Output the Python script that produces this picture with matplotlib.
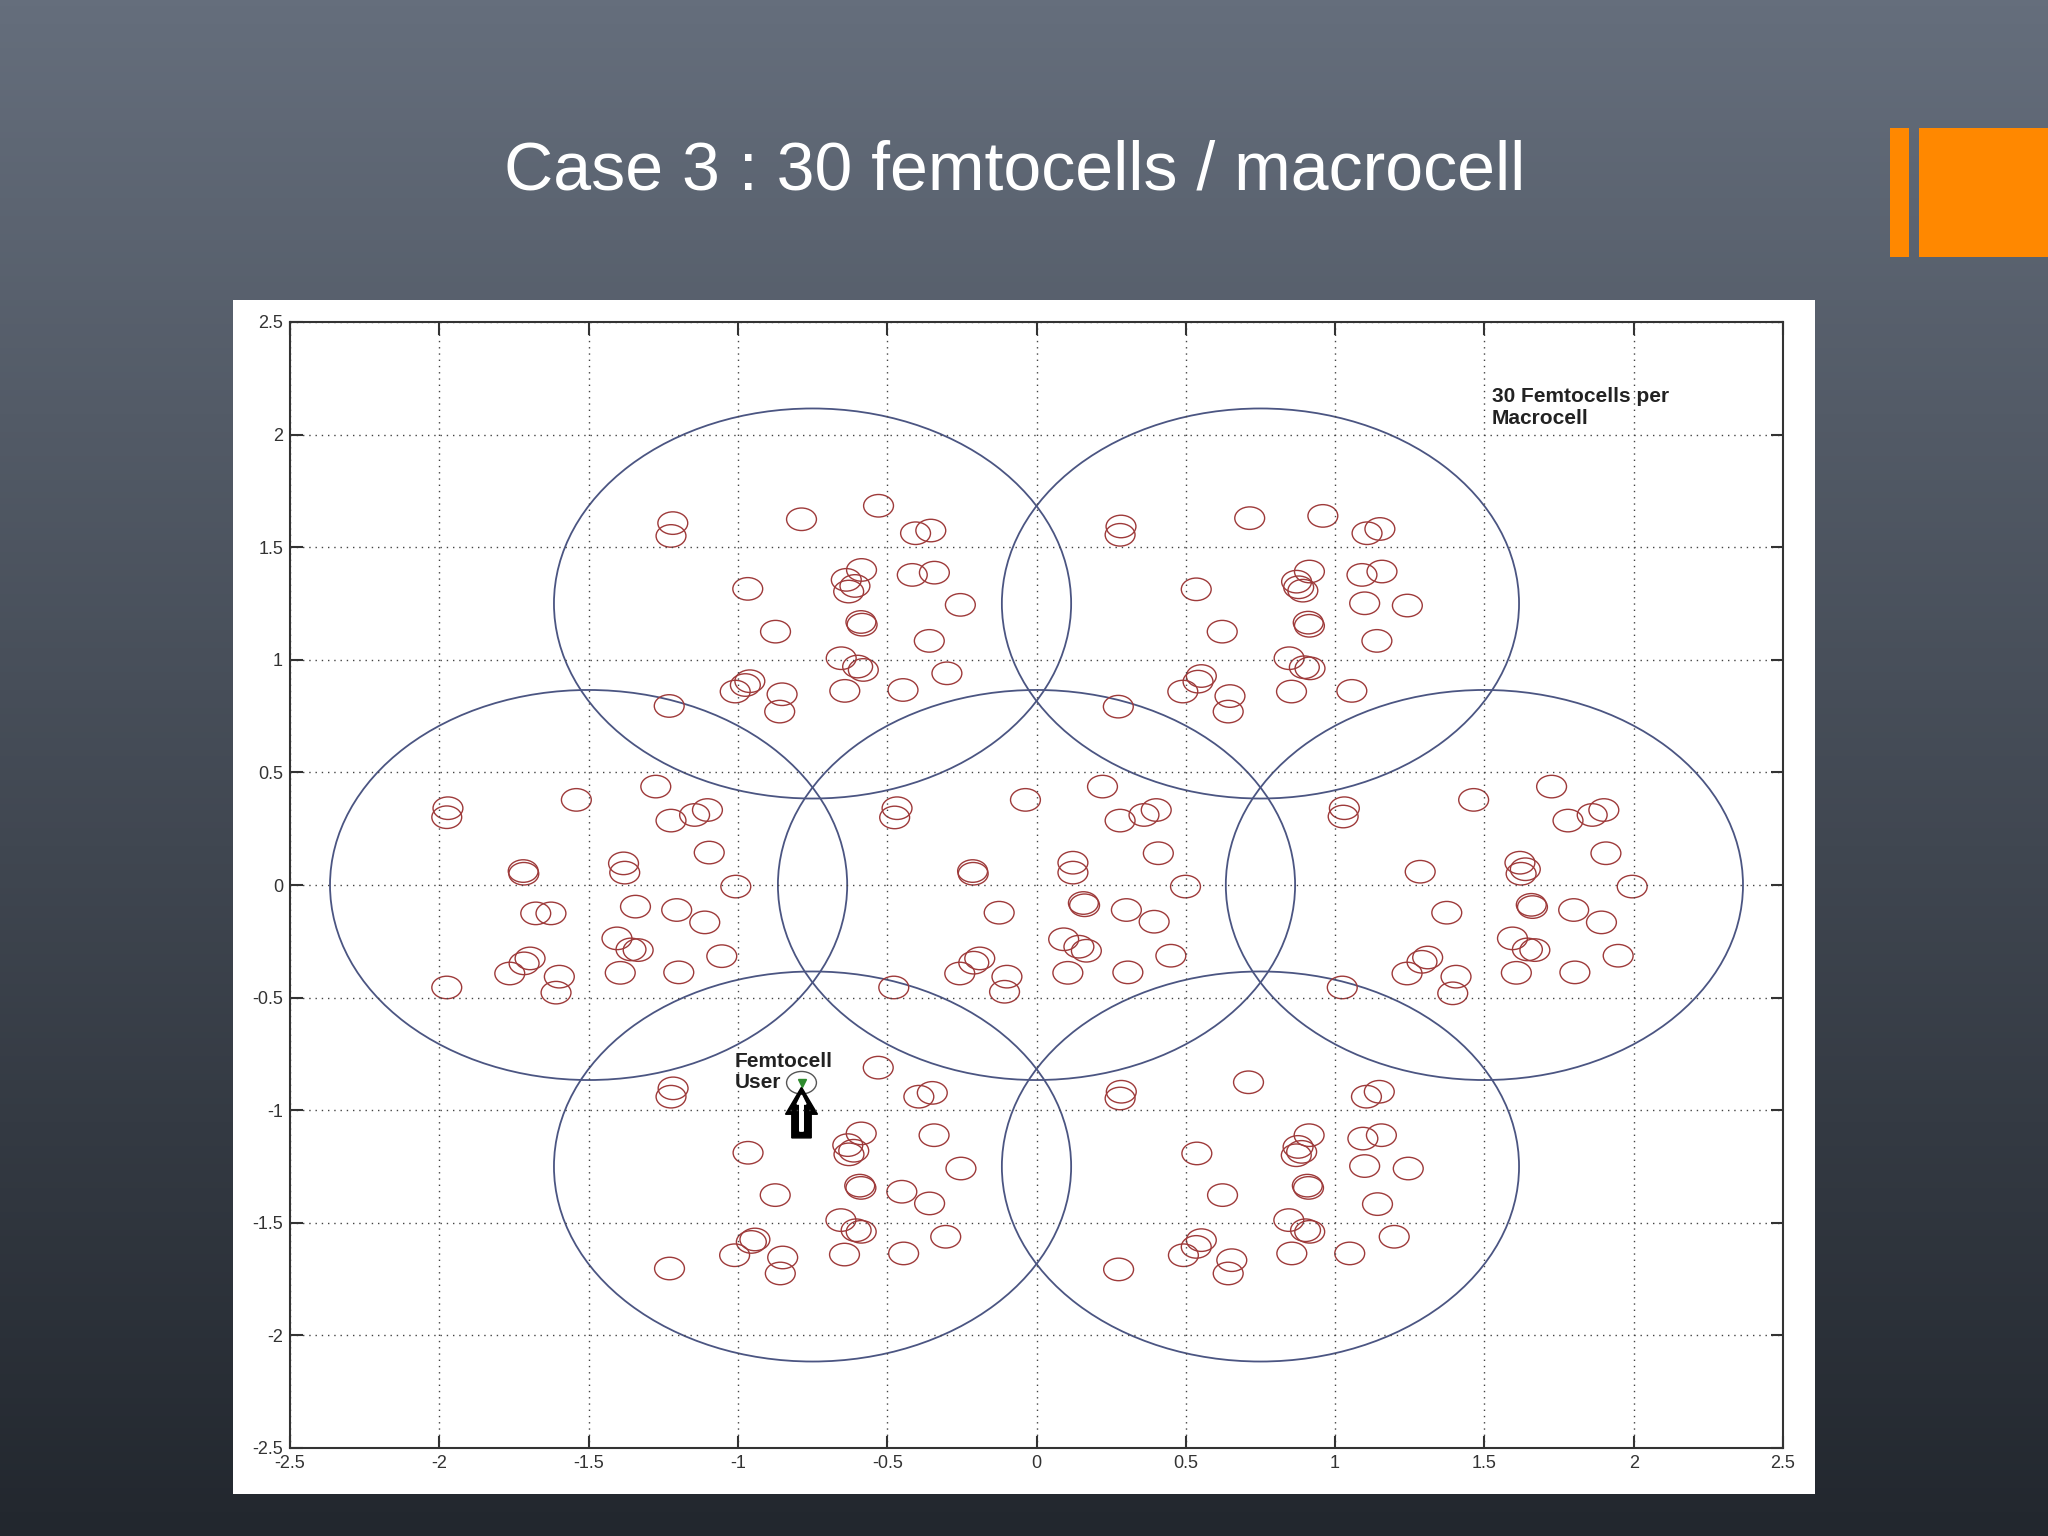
import numpy as np
import matplotlib.pyplot as plt
import matplotlib.patches as patches

plt.rcParams['font.family'] = ['Liberation Sans', 'DejaVu Sans']

# macrocell centres (hexagonal layout) and radius
macro_x = [0, 1.5, -1.5, -0.75, 0.75, -0.75, 0.75]
macro_y = [0, 0, 0, 1.25, 1.25, -1.25, -1.25]
macro_r = 0.866
femto_r = 0.05

# femtocell positions, one list per macrocell
fc_center = [(-0.037, 0.378), (-0.467, 0.341), (-0.475, 0.300), (0.221, 0.437), (0.280, 0.286),
             (0.360, 0.311), (0.401, 0.333), (0.408, 0.141), (0.122, 0.099), (0.122, 0.055),
             (-0.214, 0.062), (-0.212, 0.050), (0.499, -0.007), (0.157, -0.080), (0.161, -0.090),
             (-0.125, -0.123), (0.301, -0.111), (0.394, -0.163), (0.091, -0.241), (0.142, -0.274),
             (0.167, -0.292), (0.450, -0.314), (0.105, -0.390), (0.306, -0.388), (-0.257, -0.393),
             (-0.210, -0.345), (-0.190, -0.326), (-0.099, -0.407), (-0.107, -0.474), (-0.478, -0.455)]
fc_right = [(1.464, 0.378), (1.031, 0.341), (1.027, 0.304), (1.725, 0.437), (1.780, 0.286),
            (1.861, 0.311), (1.900, 0.333), (1.907, 0.141), (1.619, 0.099), (1.637, 0.070),
            (1.623, 0.050), (1.285, 0.059), (1.995, -0.007), (1.657, -0.088), (1.661, -0.098),
            (1.374, -0.123), (1.799, -0.111), (1.892, -0.166), (1.594, -0.237), (1.644, -0.286),
            (1.669, -0.289), (1.948, -0.314), (1.607, -0.390), (1.803, -0.388), (1.241, -0.393),
            (1.291, -0.341), (1.310, -0.322), (1.405, -0.407), (1.394, -0.481), (1.024, -0.455)]
fc_left = [(-1.541, 0.378), (-1.971, 0.341), (-1.975, 0.301), (-1.275, 0.437), (-1.224, 0.286),
           (-1.145, 0.311), (-1.102, 0.333), (-1.096, 0.144), (-1.383, 0.096), (-1.379, 0.055),
           (-1.719, 0.062), (-1.717, 0.050), (-1.007, -0.007), (-1.343, -0.096), (-1.677, -0.126),
           (-1.626, -0.126), (-1.205, -0.111), (-1.111, -0.166), (-1.405, -0.237), (-1.358, -0.286),
           (-1.334, -0.289), (-1.054, -0.316), (-1.394, -0.390), (-1.198, -0.388), (-1.764, -0.393),
           (-1.716, -0.348), (-1.696, -0.326), (-1.598, -0.407), (-1.609, -0.478), (-1.975, -0.455)]
fc_top_left = [(-1.218, 1.607), (-1.224, 1.550), (-0.967, 1.315), (-0.787, 1.624), (-0.529, 1.684),
               (-0.405, 1.562), (-0.354, 1.574), (-0.586, 1.399), (-0.416, 1.377), (-0.342, 1.387),
               (-0.637, 1.355), (-0.608, 1.328), (-0.629, 1.303), (-0.255, 1.244), (-0.588, 1.168),
               (-0.584, 1.156), (-0.874, 1.125), (-0.359, 1.084), (-0.654, 1.007), (-0.599, 0.970),
               (-0.580, 0.955), (-0.300, 0.940), (-0.975, 0.888), (-1.009, 0.859), (-0.960, 0.905),
               (-0.852, 0.847), (-0.860, 0.770), (-0.642, 0.862), (-0.447, 0.866), (-1.230, 0.795)]
fc_top_right = [(0.283, 1.592), (0.280, 1.555), (0.714, 1.629), (0.959, 1.639), (1.107, 1.562),
                (1.150, 1.581), (0.535, 1.313), (0.914, 1.392), (0.871, 1.347), (0.878, 1.322),
                (0.892, 1.307), (1.090, 1.377), (1.157, 1.392), (1.099, 1.251), (1.242, 1.241),
                (0.910, 1.165), (0.914, 1.151), (0.622, 1.125), (1.140, 1.084), (0.846, 1.007),
                (0.897, 0.967), (0.916, 0.962), (0.552, 0.928), (0.541, 0.903), (0.490, 0.859),
                (0.648, 0.839), (0.642, 0.770), (0.854, 0.859), (1.056, 0.862), (0.274, 0.792)]
fc_bottom_left = [(-1.217, -0.903), (-1.224, -0.940), (-0.530, -0.811), (-0.394, -0.940), (-0.349, -0.923),
                  (-0.343, -1.111), (-0.966, -1.189), (-0.587, -1.103), (-0.632, -1.155), (-0.612, -1.180),
                  (-0.628, -1.196), (-0.253, -1.259), (-0.592, -1.335), (-0.588, -1.345), (-0.875, -1.377),
                  (-0.451, -1.362), (-0.358, -1.414), (-0.655, -1.488), (-0.604, -1.533), (-0.587, -1.540),
                  (-0.304, -1.562), (-1.011, -1.644), (-0.955, -1.585), (-0.943, -1.574), (-0.850, -1.654),
                  (-0.858, -1.725), (-0.643, -1.641), (-0.445, -1.636), (-1.229, -1.703)]
fc_bottom_right = [(0.284, -0.918), (0.280, -0.948), (0.710, -0.876), (0.537, -1.192), (0.623, -1.377),
                   (0.552, -1.577), (0.535, -1.607), (0.492, -1.644), (0.654, -1.666), (0.642, -1.725),
                   (0.275, -1.707), (1.105, -0.940), (1.148, -0.918), (0.913, -1.111), (0.876, -1.163),
                   (0.888, -1.185), (0.870, -1.200), (1.093, -1.126), (1.155, -1.111), (1.099, -1.248),
                   (1.245, -1.259), (0.907, -1.335), (0.911, -1.345), (1.142, -1.417), (0.845, -1.488),
                   (0.901, -1.533), (0.915, -1.540), (1.198, -1.562), (0.855, -1.636), (1.049, -1.636)]
user_xy = (-0.787, -0.878)  # femtocell user (30th femtocell of the bottom-left cell)

ticks = [-2.5, -2, -1.5, -1, -0.5, 0, 0.5, 1, 1.5, 2, 2.5]
tick_labels = ['-2.5', '-2', '-1.5', '-1', '-0.5', '0', '0.5', '1', '1.5', '2', '2.5']

W, H = 2048, 1536
fig = plt.figure(figsize=(W / 100, H / 100), dpi=100)

# slide background
bg = fig.add_axes([0, 0, 1, 1])
t = np.linspace(0, 1, 256)[:, None, None]
top_c = np.array([101, 110, 124]) / 255
bot_c = np.array([34, 39, 46]) / 255
bg.imshow(top_c + (bot_c - top_c) * t, aspect='auto', extent=[0, 1, 0, 1])
bg.set_xlim(0, 1)
bg.set_ylim(0, 1)
bg.set_axis_off()
bg.add_patch(patches.Rectangle((233 / W, 1 - 1494 / H), (1815 - 233) / W, (1494 - 300) / H,
                               fc='white', ec='none'))
bg.add_patch(patches.Rectangle((1890 / W, 1 - 257 / H), 19 / W, 129 / H, fc='#ff8800', ec='none'))
bg.add_patch(patches.Rectangle((1919 / W, 1 - 257 / H), 129 / W, 129 / H, fc='#ff8800', ec='none'))

fig.text(1015 / W, 1 - 172 / H, 'Case 3 : 30 femtocells / macrocell', color='white',
         fontsize=49, ha='center', va='center')

# matlab plot
ax = fig.add_axes([290 / W, 1 - 1448 / H, (1783 - 290) / W, (1448 - 322) / H])
ax.set_xlim(-2.5, 2.5)
ax.set_ylim(-2.5, 2.5)
ax.set_xticks(ticks)
ax.set_xticklabels(tick_labels)
ax.set_yticks(ticks)
ax.set_yticklabels(tick_labels)
ax.tick_params(direction='in', length=9, width=1.5, top=True, right=True,
               labelsize=13, labelcolor='#333333', color='#333333', pad=5)
ax.grid(True, linestyle=(0, (1, 3.5)), color='#444444', linewidth=1.0)
for s in ax.spines.values():
    s.set_color('#333333')
    s.set_linewidth(1.5)

for cx, cy in zip(macro_x, macro_y):
    ax.add_patch(patches.Circle((cx, cy), macro_r, fill=False, ec='#4b5582', lw=1.3))

for cell in [fc_center, fc_right, fc_left, fc_top_left, fc_top_right, fc_bottom_left, fc_bottom_right]:
    for fx, fy in cell:
        ax.add_patch(patches.Circle((fx, fy), femto_r, fill=False, ec='#9e3a3a', lw=1.0))

ux, uy = user_xy
ax.add_patch(patches.Circle((ux, uy), femto_r, fill=False, ec='#555555', lw=1.0))
ax.plot([ux], [uy], marker='v', color='#2e8b2e', ms=6, ls='none')

# arrow pointing at the user
ax.add_patch(patches.FancyArrow(ux, uy - 0.245, 0, 0.225, width=0.065, head_width=0.107,
                                head_length=0.12, length_includes_head=True, fc='black', ec='black'))
ax.add_patch(patches.FancyArrow(ux, uy - 0.215, 0, 0.16, width=0.012, head_width=0.03,
                                head_length=0.04, length_includes_head=True, fc='white', ec='white'))

ax.text(1.525, 2.12, '30 Femtocells per\nMacrocell', fontsize=15, fontweight='bold',
        color='#222222', ha='left', va='center', linespacing=1.15)
ax.text(-1.011, -0.83, 'Femtocell\nUser', fontsize=15, fontweight='bold',
        color='#222222', ha='left', va='center', linespacing=1.15)

fig.savefig('out.png', dpi=100)
